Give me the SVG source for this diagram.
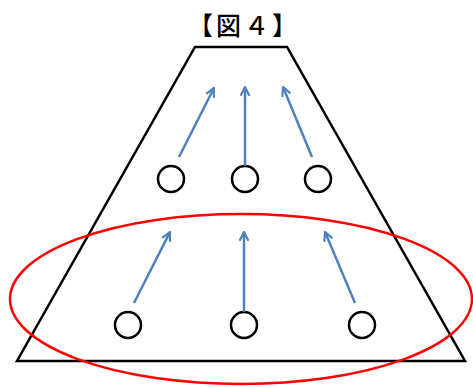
<svg xmlns="http://www.w3.org/2000/svg" width="473" height="387" viewBox="0 0 473 387">
<style>
.blk{fill:none;stroke:#000;stroke-width:2.5}
.arr{fill:none;stroke:#4f81bd;stroke-width:2.5;marker-end:url(#ah)}
.title{font-family:"Noto Sans CJK JP","Noto Sans",sans-serif;font-size:25px;font-weight:500;letter-spacing:3px;fill:#000}
</style>
<defs>
<marker id="ah" viewBox="0 0 10 10" refX="9" refY="5" markerWidth="4.4" markerHeight="4.4" orient="auto" markerUnits="strokeWidth">
<path d="M1,1 L9,5 L1,9" fill="none" stroke="#4f81bd" stroke-width="2"/>
</marker>
</defs>
<rect width="473" height="387" fill="#fff"/>
<text class="title" x="244" y="35" text-anchor="middle">【図４】</text>
<g id="trapezoid"><polygon class="blk" points="195,47 287,47 465,361 17,361"/></g>
<g id="ellipse"><ellipse cx="241" cy="299" rx="231" ry="85" fill="none" stroke="#f00" stroke-width="2.5"/></g>
<g id="n1"><circle class="blk" cx="171" cy="179" r="13"/></g>
<g id="n2"><circle class="blk" cx="245" cy="179" r="13"/></g>
<g id="n3"><circle class="blk" cx="318" cy="179" r="13"/></g>
<g id="n4"><circle class="blk" cx="128" cy="325" r="13"/></g>
<g id="n5"><circle class="blk" cx="244" cy="325" r="13"/></g>
<g id="n6"><circle class="blk" cx="362" cy="325" r="13"/></g>
<g id="connectors">
<line class="arr" x1="179" y1="157" x2="214" y2="88"/>
<line class="arr" x1="245" y1="166" x2="245" y2="87"/>
<line class="arr" x1="312" y1="157" x2="283" y2="87"/>
<line class="arr" x1="134" y1="303" x2="170" y2="232"/>
<line class="arr" x1="244" y1="312" x2="244" y2="232"/>
<line class="arr" x1="355" y1="303" x2="325" y2="232"/>
</g>
</svg>
